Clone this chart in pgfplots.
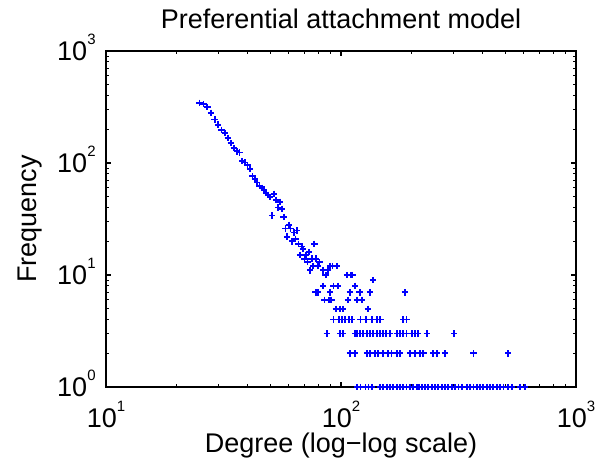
\documentclass[border=0pt]{standalone}
\usepackage{fontspec}
\setmainfont{Liberation Sans}
\usepackage{pgfplots}
\pgfplotsset{compat=1.18}
\newcommand{\tp}[1]{10\raisebox{8pt}{\fontsize{7.5}{8}\selectfont #1}}
\pgfplotstableread{
d f
25 345
26 335
27 318
28 280
29 245
30 220
31 198
32 186
33 168
34 150
35 136
36 127
37 124
38 104
39 101
40 96
41 88
42 76
43 72
44 67
45 62
46 60
47 58
48 54
49 52
50 50
51 34
52 53
53 47
54 40
55 45
56 39
57 33
58 26
59 22
60 28
61 26
62 20
63 24
64 21
65 25
66 19
67 15
68 18
69 17
70 14
71 15
72 13
73 16
74 11
75 14
76 12
77 19
78 14
79 7
80 12
81 13
84 11
86 10
88 11
90 12
92 12
96 12
106 10
110 10
112 10
137 9
84 8
93 8
97 8
115 8
78 7
80 7
90 7
109 7
120 7
133 7
187 7
85 6
89 6
91 6
107 6
117 6
123 6
95 5
99 5
102 5
130 5
93 4
98 4
101 4
104 4
108 4
111 4
121 4
128 4
135 4
142 4
147 4
184 4
190 4
87 3
99 3
102 3
115 3
117 3
120 3
124 3
129 3
133 3
137 3
142 3
147 3
151 3
156 3
162 3
173 3
178 3
184 3
190 3
200 3
206 3
213 3
232 3
303 3
109 2
115 2
129 2
133 2
140 2
144 2
151 2
159 2
164 2
173 2
178 2
197 2
207 2
217 2
224 2
247 2
256 2
277 2
366 2
515 2
117 1
121 1
127 1
131 1
135 1
147 1
151 1
157 1
162 1
167 1
173 1
178 1
184 1
190 1
197 1
203 1
210 1
215 1
221 1
228 1
235 1
243 1
251 1
259 1
268 1
277 1
286 1
296 1
306 1
316 1
326 1
343 1
354 1
366 1
378 1
390 1
403 1
417 1
431 1
445 1
460 1
475 1
491 1
515 1
533 1
578 1
607 1
}\degdata
\begin{document}
\fontsize{13.5}{16}\selectfont
\begin{tikzpicture}
\begin{axis}[
  scale only axis, width=235pt, height=168pt,
  xmode=log, ymode=log,
  xmin=10, xmax=1000, ymin=1, ymax=1000,
  xtick={10,100,1000},
  xticklabels={\tp{1},\tp{2},\tp{3}},
  ytick={1,10,100,1000},
  yticklabels={\tp{0},\tp{1},\tp{2},\tp{3}},
  tick align=inside,
  xtick pos=both, ytick pos=both,
  axis line style={line width=0.8pt},
  major tick length=2.5pt, minor tick length=1.4pt,
  every tick/.style={black, line width=0.6pt},
  tick label style={font=\fontsize{13.5}{16}\selectfont, inner sep=0pt},
  xticklabel style={anchor=north, yshift=-7pt},
  yticklabel style={anchor=base east, yshift=-4.75pt, xshift=-5pt},
  label style={font=\fontsize{13.5}{16}\selectfont},
  every axis title shift=0pt,
  title style={font=\fontsize{13.5}{16}\selectfont, at={(axis description cs:0.5,1.0655)}, anchor=base, inner sep=0pt},
  xlabel style={at={(axis description cs:0.5,-0.1935)}, anchor=base, inner sep=0pt},
  ylabel style={at={(axis description cs:-0.147,0.5)}, anchor=base, inner sep=0pt},
  title={Preferential attachment model},
  xlabel={Degree (log−log scale)},
  ylabel={Frequency},
]
\addplot[only marks, mark=+, mark size=1.6pt, color=blue, line width=0.9pt] table[x=d, y=f] {\degdata};
\end{axis}
\path ([xshift=-53pt,yshift=-41pt]current axis.south west) rectangle ([xshift=11pt,yshift=25.5pt]current axis.north east);
\end{tikzpicture}
\end{document}
